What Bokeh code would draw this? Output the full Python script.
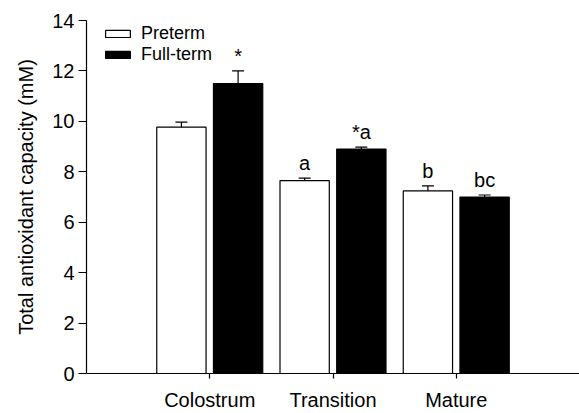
from bokeh.plotting import figure
from bokeh.models import ColumnDataSource, Whisker, TeeHead, Legend, LegendItem, FixedTicker, Range1d
from bokeh.embed import file_html
from bokeh.resources import INLINE
from bokeh.core.properties import value

categories = ["Colostrum", "Transition", "Mature"]
preterm = [9.77, 7.65, 7.24]
preterm_err = [0.2, 0.1, 0.2]
fullterm = [11.5, 8.9, 7.0]
fullterm_err = [0.5, 0.08, 0.08]
pre_marks = ["", "a", "b"]
full_marks = ["*", "*a", "bc"]
y_ticks = [0, 2, 4, 6, 8, 10, 12, 14]

pos = [1, 2, 3]
off = 0.23
w = 0.4

p = figure(width=579, height=413, output_backend="svg", toolbar_location=None,
           x_range=Range1d(0, 4), y_range=Range1d(0, 14))
p.min_border_left = 86
p.min_border_bottom = 39
p.min_border_top = 20
p.min_border_right = 0
p.outline_line_color = None
p.grid.visible = False
p.background_fill_color = "white"

xp = [x - off for x in pos]
xf = [x + off for x in pos]
src_p = ColumnDataSource(dict(x=xp, top=preterm, lo=[v - e for v, e in zip(preterm, preterm_err)],
                              hi=[v + e for v, e in zip(preterm, preterm_err)], lab=pre_marks))
src_f = ColumnDataSource(dict(x=xf, top=fullterm, lo=[v - e for v, e in zip(fullterm, fullterm_err)],
                              hi=[v + e for v, e in zip(fullterm, fullterm_err)], lab=full_marks))

r1 = p.vbar(x="x", top="top", width=w, source=src_p, fill_color="white", line_color="black", line_width=1.2)
r2 = p.vbar(x="x", top="top", width=w, source=src_f, fill_color="black", line_color="black", line_width=1.2)

for s in (src_p, src_f):
    wk = Whisker(base="x", lower="lo", upper="hi", source=s, line_color="black", line_width=1.2,
                 upper_head=TeeHead(size=12, line_color="black", line_width=1.2),
                 lower_head=TeeHead(size=12, line_color="black", line_width=1.2))
    p.add_layout(wk)
    p.text(x="x", y="hi", text="lab", source=s, text_align="center", text_baseline="bottom",
           y_offset=-4, text_font=value("Liberation Sans"), text_font_size="20px", text_color="black")

p.xaxis.ticker = FixedTicker(ticks=pos)
p.xaxis.major_label_overrides = {pos[i]: categories[i] for i in range(3)}
p.yaxis.ticker = FixedTicker(ticks=y_ticks)
p.yaxis.axis_label = "Total antioxidant capacity (mM)"
for ax in (p.xaxis, p.yaxis):
    ax.axis_line_color = "black"
    ax.axis_line_width = 1.2
    ax.major_tick_line_color = "black"
    ax.major_tick_line_width = 1.2
    ax.minor_tick_line_color = None
    ax.major_tick_in = 0
    ax.major_label_text_font = "Liberation Sans"
    ax.major_label_text_font_size = "20px"
    ax.major_label_text_color = "black"
    ax.axis_label_text_font = "Liberation Sans"
    ax.axis_label_text_font_size = "20px"
    ax.axis_label_text_font_style = "normal"
    ax.axis_label_text_color = "black"
p.yaxis.major_tick_out = 8
p.xaxis.major_tick_out = 5
p.yaxis.major_label_standoff = 4
p.xaxis.major_label_standoff = 10
p.yaxis.axis_label_standoff = 12

legend = Legend(items=[LegendItem(label="Preterm", renderers=[r1]),
                       LegendItem(label="Full-term", renderers=[r2])],
                location=(16, 308), glyph_width=31, glyph_height=9,
                label_text_font="Liberation Sans", label_text_font_size="18px",
                label_text_color="black",
                label_height=9, spacing=-4, padding=0, margin=0,
                border_line_alpha=0, background_fill_alpha=0, label_standoff=8)
p.add_layout(legend)

open("out.html", "w").write(file_html(p, INLINE))
